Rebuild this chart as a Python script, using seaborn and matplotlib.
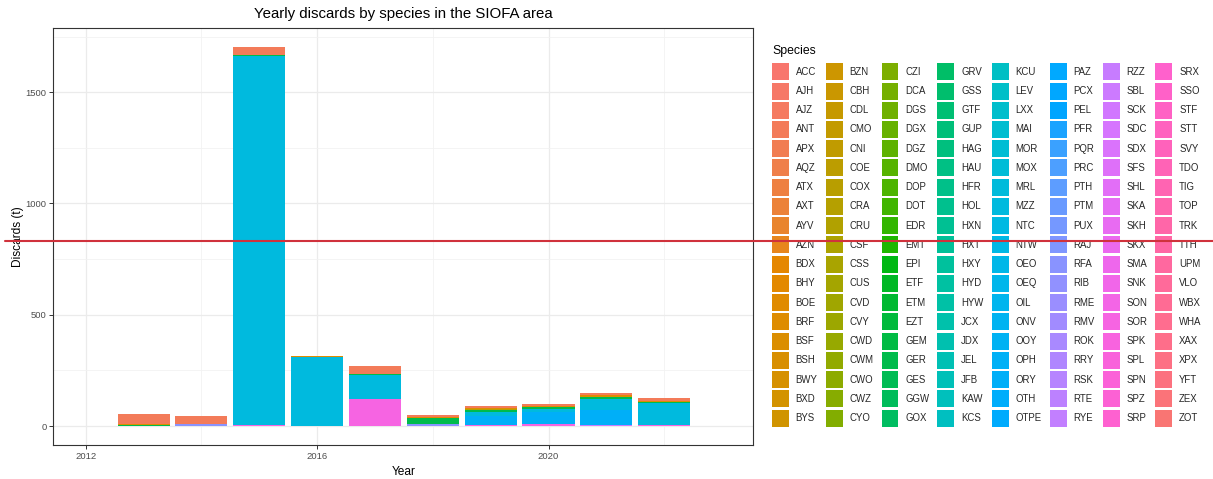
import numpy as np
import pandas as pd
import matplotlib
matplotlib.use("Agg")
import matplotlib.pyplot as plt
from matplotlib.patches import Patch
from matplotlib.lines import Line2D
import seaborn as sns

# ---- data -------------------------------------------------------------
years = [2013, 2014, 2015, 2016, 2017, 2018, 2019, 2020, 2021, 2022]

species = [
    "ACC", "AJH", "AJZ", "ANT", "APX", "AQZ", "ATX", "AXT", "AYV", "AZN",
    "BDX", "BHY", "BOE", "BRF", "BSF", "BSH", "BWY", "BXD", "BYS",
    "BZN", "CBH", "CDL", "CMO", "CNI", "COE", "COX", "CRA", "CRU", "CSF",
    "CSS", "CUS", "CVD", "CVY", "CWD", "CWM", "CWO", "CWZ", "CYO",
    "CZI", "DCA", "DGS", "DGX", "DGZ", "DMO", "DOP", "DOT", "EDR", "EMT",
    "EPI", "ETF", "ETM", "EZT", "GEM", "GER", "GES", "GGW", "GOX",
    "GRV", "GSS", "GTF", "GUP", "HAG", "HAU", "HFR", "HOL", "HXN", "HXT",
    "HXY", "HYD", "HYW", "JCX", "JDX", "JEL", "JFB", "KAW", "KCS",
    "KCU", "LEV", "LXX", "MAI", "MOR", "MOX", "MRL", "MZZ", "NTC", "NTW",
    "OEO", "OEQ", "OIL", "ONV", "OOY", "OPH", "ORY", "OTH", "OTPE",
    "PAZ", "PCX", "PEL", "PFR", "PQR", "PRC", "PTH", "PTM", "PUX", "RAJ",
    "RFA", "RIB", "RME", "RMV", "ROK", "RRY", "RSK", "RTE", "RYE",
    "RZZ", "SBL", "SCK", "SDC", "SDX", "SFS", "SHL", "SKA", "SKH", "SKX",
    "SMA", "SNK", "SON", "SOR", "SPK", "SPL", "SPN", "SPZ", "SRP",
    "SRX", "SSO", "STF", "STT", "SVY", "TDO", "TIG", "TOP", "TRK", "TTH",
    "UPM", "VLO", "WBX", "WHA", "XAX", "XPX", "YFT", "ZEX", "ZOT",
]

# yearly discards (t) of the species that make up the bars
ANT = [46, 36, 37, 0, 35, 7, 8, 10, 11, 12]
BRF = [4, 0, 0, 4, 0, 4, 5, 3, 7, 6]
CRA = [0, 0, 0, 0, 0, 0, 3, 0, 0, 0]
GER = [6, 3, 6, 0, 6, 28, 8, 10, 12, 4]
MZZ = [0, 0, 1659, 310, 107, 0, 21, 12, 48, 96]
ORY = [0, 0, 0, 0, 0, 0, 37, 55, 68, 0]
RFA = [0, 8, 0, 0, 0, 10, 0, 0, 0, 0]
RZZ = [0, 0, 0, 0, 0, 0, 0, 0, 4, 0]
SOR = [0, 0, 3, 0, 123, 0, 6, 9, 0, 6]

layers = {"ANT": ANT, "BRF": BRF, "CRA": CRA, "GER": GER, "MZZ": MZZ,
          "ORY": ORY, "RFA": RFA, "RZZ": RZZ, "SOR": SOR}


# ---- ggplot-style hue palette (HCL, c=100, l=65) ------------------------
def hcl_hex(h, c=100.0, l=65.0):
    hr = np.deg2rad(h)
    u, v = c * np.cos(hr), c * np.sin(hr)
    xn, yn, zn = 95.047, 100.0, 108.883
    y = yn * ((l + 16) / 116) ** 3 if l > 8 else yn * l / 903.3
    t = xn + 15 * yn + 3 * zn
    up = u / (13 * l) + 4 * xn / t
    vp = v / (13 * l) + 9 * yn / t
    x = 9 * y * up / (4 * vp)
    z = -x / 3 - 5 * y + 3 * y / vp
    m = np.array([[3.240479, -1.537150, -0.498535],
                  [-0.969256, 1.875992, 0.041556],
                  [0.055648, -0.204043, 1.057311]])
    lin = m @ (np.array([x, y, z]) / 100.0)
    out = np.where(lin <= 0.0031308, 12.92 * lin,
                   1.055 * np.abs(lin) ** (1 / 2.4) - 0.055)
    out = np.clip(out, 0, 1)
    return "#%02X%02X%02X" % tuple(int(round(k * 255)) for k in out)


n = len(species)
palette = {sp: hcl_hex(15 + i * 360.0 / n) for i, sp in enumerate(species)}

# ---- figure -------------------------------------------------------------
sns.set_style("white")
plt.rcParams["font.family"] = ["Liberation Sans", "DejaVu Sans"]

W, H = 1213, 479
fig = plt.figure(figsize=(W / 100, H / 100), dpi=100)
ax = fig.add_axes([53.3 / W, 1 - 445 / H, 700 / W, (445 - 27.6) / H])

# stacked bars: first species level sits on top of the stack
base = np.zeros(len(years))
for name in reversed(list(layers)):
    vals = np.asarray(layers[name], dtype=float)
    sns.barplot(x=years, y=vals, bottom=base, color=palette[name],
                saturation=1, native_scale=True, width=0.9, errorbar=None,
                linewidth=0, ax=ax)
    base += vals

total_max = base.max()
ax.set_xlim(2011.44, 2023.54)
ax.set_ylim(-0.05 * total_max, 1.05 * total_max)

ax.set_xticks([2012, 2016, 2020])
ax.set_xticks([2014, 2018, 2022], minor=True)
ax.set_yticks([0, 500, 1000, 1500])
ax.set_yticks([250, 750, 1250, 1750], minor=True)
ax.set_xticklabels(["2012", "2016", "2020"])

ax.set_axisbelow(True)
ax.grid(True, which="major", color="#EBEBEB", linewidth=0.9)
ax.grid(True, which="minor", color="#F2F2F2", linewidth=0.6)
for s in ax.spines.values():
    s.set_visible(True)
    s.set_color("#333333")
    s.set_linewidth(0.8)
ax.tick_params(which="major", length=2.7, width=0.7, color="#333333",
               labelsize=6.8, labelcolor="#4D4D4D", pad=2.2,
               bottom=True, left=True)
ax.tick_params(which="minor", length=0)

ax.set_xlabel("Year", fontsize=8.6, color="#000000", labelpad=4)
ax.set_ylabel("Discards (t)", fontsize=8.6, color="#000000", labelpad=1)

fig.text(403.3 / W, 1 - 14 / H, "Yearly discards by species in the SIOFA area",
         fontsize=10.8, ha="center", va="center", color="#000000")

# legend with every species, eight columns filled top to bottom
handles = [Patch(facecolor=palette[sp], edgecolor="none") for sp in species]
fig.legend(handles, species, ncol=8, loc="upper left",
           bbox_to_anchor=(772 / W, 1 - 63.3 / H),
           bbox_transform=fig.transFigure, frameon=False, fontsize=6.9,
           handlelength=1.77, handleheight=2.35, labelspacing=0.235,
           handletextpad=0.7, columnspacing=0.85, borderpad=0,
           borderaxespad=0)
fig.text(772 / W, 1 - 51 / H, "Species", fontsize=8.8, ha="left",
         va="center", color="#000000")

# reference level line drawn across the whole figure
fig.add_artist(Line2D([5 / W, 1.0], [1 - 241.5 / H] * 2,
                      transform=fig.transFigure, color="#D0323C",
                      linewidth=1.5, zorder=10))

fig.savefig("out.png", dpi=100)
